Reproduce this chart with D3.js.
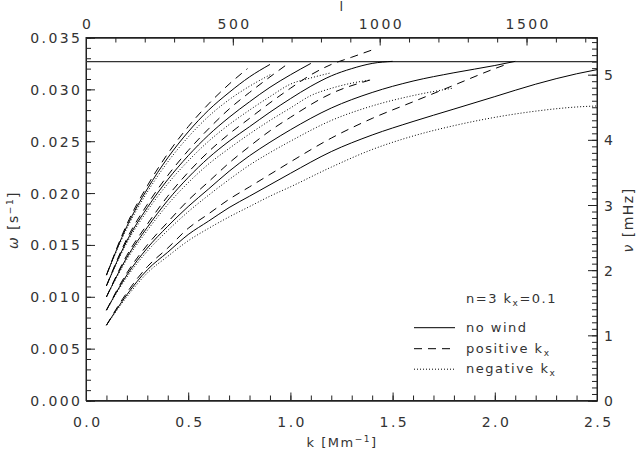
<!DOCTYPE html>
<html>
<head>
<meta charset="utf-8">
<script src="https://cdn.jsdelivr.net/npm/d3@7/dist/d3.min.js"></script>
<style>
  html, body { margin: 0; padding: 0; background: #fff; }
  svg { display: block; }
  text { font-family: "DejaVu Sans", sans-serif; fill: #333; }
</style>
</head>
<body>
<svg id="chart" width="638" height="453"></svg>
<script>
// ---------- data ----------
const cutoffOmega = 0.03267;          // acoustic cut-off line
const lPerK = 696;                    // top axis: l = k * R_sun
// mode 1 (highest)
const kS1 = [0.1,0.2,0.3,0.4,0.5,0.6,0.7,0.8,0.9];
const wS1 = [0.01209,0.0168,0.0204,0.0234,0.0259,0.0280,0.0297,0.0312,0.0324];
const kD1 = [0.1,0.2,0.3,0.4,0.5,0.6,0.7,0.79];
const wD1 = [0.01209,0.0170,0.0207,0.0238,0.0264,0.0286,0.0305,0.0320];
const kN1 = [0.1,0.2,0.3,0.4,0.5,0.6,0.7,0.8,0.91];
const wN1 = [0.01209,0.0166,0.0201,0.0230,0.0254,0.0274,0.0290,0.0303,0.0315];
// mode 2
const kS2 = [0.1,0.2,0.3,0.4,0.5,0.6,0.7,0.8,0.9,1.0,1.1];
const wS2 = [0.01106,0.0154,0.0186,0.0213,0.0236,0.0256,0.0273,0.0288,0.0302,0.0314,0.0325];
const kD2 = [0.1,0.2,0.3,0.4,0.5,0.6,0.7,0.8,0.9,0.99];
const wD2 = [0.01106,0.0156,0.0189,0.0217,0.0241,0.0262,0.0281,0.0297,0.0312,0.0325];
const kN2 = [0.1,0.2,0.3,0.4,0.5,0.6,0.7,0.8,0.9,1.0,1.1,1.2];
const wN2 = [0.01106,0.0152,0.0183,0.0209,0.0231,0.0250,0.0266,0.0280,0.0293,0.0305,0.0311,0.0316];
// mode 3
const kS3 = [0.1,0.2,0.3,0.4,0.5,0.6,0.7,0.8,0.9,1.0,1.1,1.2,1.3,1.4,1.5];
const wS3 = [0.00999,0.0138,0.0167,0.0193,0.0215,0.0234,0.0250,0.0264,0.0278,0.0291,0.0303,0.0313,0.0320,0.0325,0.0327];
const kD3 = [0.1,0.2,0.3,0.4,0.5,0.6,0.7,0.8,0.9,1.0,1.1,1.2,1.3,1.4];
const wD3 = [0.00999,0.0140,0.0170,0.0197,0.0220,0.0240,0.0257,0.0272,0.0287,0.0301,0.0314,0.0324,0.0331,0.0338];
const kN3 = [0.1,0.2,0.3,0.4,0.5,0.6,0.7,0.8,0.9,1.0,1.1,1.2,1.3,1.39];
const wN3 = [0.00999,0.0136,0.0164,0.0189,0.0210,0.0228,0.0243,0.0257,0.0270,0.0282,0.0294,0.0301,0.0306,0.0309];
// mode 4
const kS4 = [0.1,0.2,0.3,0.4,0.5,0.6,0.7,0.8,0.9,1.0,1.2,1.4,1.6,1.8,2.0,2.1];
const wS4 = [0.00871,0.0121,0.0147,0.0168,0.0187,0.0204,0.0221,0.0236,0.0249,0.0261,0.0282,0.0297,0.0308,0.0316,0.0323,0.0327];
const kD4 = [0.1,0.2,0.3,0.4,0.5,0.6,0.7,0.8,0.9,1.0,1.2,1.39];
const wD4 = [0.00871,0.0123,0.0150,0.0172,0.0193,0.0211,0.0229,0.0245,0.0260,0.0273,0.0296,0.0309];
const kN4 = [0.1,0.2,0.3,0.4,0.5,0.6,0.7,0.8,0.9,1.0,1.2,1.4,1.6,1.79];
const wN4 = [0.00871,0.0119,0.0144,0.0164,0.0182,0.0198,0.0213,0.0227,0.0239,0.0250,0.0270,0.0284,0.0294,0.0301];
// mode 5 (lowest)
const kS5 = [0.1,0.2,0.3,0.4,0.5,0.6,0.7,0.8,0.9,1.0,1.2,1.4,1.6,1.8,2.0,2.2,2.4,2.5];
const wS5 = [0.00726,0.0102,0.0126,0.0143,0.0160,0.0173,0.0186,0.0197,0.0208,0.0219,0.0240,0.0256,0.0269,0.0281,0.0293,0.0305,0.0315,0.0319];
const kD5 = [0.1,0.2,0.3,0.4,0.5,0.6,0.7,0.8,0.9,1.0,1.2,1.4,1.6,1.8,2.0,2.07];
const wD5 = [0.00726,0.0104,0.0129,0.0147,0.0166,0.0180,0.0194,0.0206,0.0218,0.0230,0.0253,0.0272,0.0288,0.0304,0.0320,0.0325];
const kN5 = [0.1,0.2,0.3,0.4,0.5,0.6,0.7,0.8,0.9,1.0,1.2,1.4,1.6,1.8,2.0,2.2,2.4,2.5];
const wN5 = [0.00726,0.0100,0.0123,0.0139,0.0154,0.0166,0.0177,0.0187,0.0197,0.0206,0.0225,0.0242,0.0255,0.0265,0.0273,0.0279,0.0283,0.0284];

// ticks
const kTicks = [0, 0.5, 1.0, 1.5, 2.0, 2.5];
const wTicks = [0, 0.005, 0.010, 0.015, 0.020, 0.025, 0.030, 0.035];
const lTicks = [0, 500, 1000, 1500];
const nuTicks = [0, 1, 2, 3, 4, 5];
const legendLabels = ["no wind", "positive k", "negative k"];
const legendTitle = "n=3 k";

// ---------- drawing ----------
const svg = d3.select("#chart");
const L = 86, R = 597, T = 37.5, B = 400.5;
const x = d3.scaleLinear().domain([0, 2.5]).range([L, R]);
const y = d3.scaleLinear().domain([0, 0.035]).range([B, T]);
const xl = d3.scaleLinear().domain([0, 2.5 * lPerK]).range([L, R]);
const ynu = d3.scaleLinear().domain([0, 0.035 / (2 * Math.PI) * 1000]).range([B, T]);

const axisColor = "#222";
const LS = 2.4; // letter-spacing of tick labels
const FS = 14;  // tick label font size

function styleAxis(g) {
  g.selectAll("path.domain").attr("stroke", axisColor).attr("stroke-width", 1);
  g.selectAll(".tick line").attr("stroke", axisColor).attr("stroke-width", 1);
  g.selectAll(".tick text")
    .attr("font-family", "DejaVu Sans, sans-serif")
    .attr("font-size", FS)
    .attr("letter-spacing", LS)
    .attr("fill", "#3a3a3a");
}
function rangeStep(a, b, s) { return d3.range(Math.round((b - a) / s) + 1).map(i => +(a + i * s).toFixed(6)); }

// minor ticks
svg.append("g").attr("transform", `translate(0,${B})`)
  .call(d3.axisBottom(x).tickValues(rangeStep(0, 2.5, 0.1)).tickSize(-5).tickFormat(""))
  .call(styleAxis);
svg.append("g").attr("transform", `translate(0,${T})`)
  .call(d3.axisTop(xl).tickValues(rangeStep(0, 1700, 100)).tickSize(-5).tickFormat(""))
  .call(styleAxis);
svg.append("g").attr("transform", `translate(${L},0)`)
  .call(d3.axisLeft(y).tickValues(rangeStep(0, 0.035, 0.001)).tickSize(-5).tickFormat(""))
  .call(styleAxis);
svg.append("g").attr("transform", `translate(${R},0)`)
  .call(d3.axisRight(ynu).tickValues(rangeStep(0, 5.5, 0.1)).tickSize(-5).tickFormat(""))
  .call(styleAxis);

// major ticks + labels
const gB = svg.append("g").attr("transform", `translate(0,${B})`)
  .call(d3.axisBottom(x).tickValues(kTicks).tickSize(-8).tickFormat(d3.format(".1f")))
  .call(styleAxis);
gB.selectAll(".tick text").attr("y", 26).attr("dy", 0).attr("dx", LS / 2);

const gT = svg.append("g").attr("transform", `translate(0,${T})`)
  .call(d3.axisTop(xl).tickValues(lTicks).tickSize(-8).tickFormat(d3.format("d")))
  .call(styleAxis);
gT.selectAll(".tick text").attr("y", -8.3).attr("dy", 0).attr("dx", LS / 2);

const gL = svg.append("g").attr("transform", `translate(${L},0)`)
  .call(d3.axisLeft(y).tickValues(wTicks).tickSize(-9).tickFormat(d3.format(".3f")))
  .call(styleAxis);
gL.selectAll(".tick text").attr("x", -6 + LS).attr("dy", "0.36em");

const gR = svg.append("g").attr("transform", `translate(${R},0)`)
  .call(d3.axisRight(ynu).tickValues(nuTicks).tickSize(-9).tickFormat(d3.format("d")))
  .call(styleAxis);
gR.selectAll(".tick text").attr("x", 7).attr("dy", "0.36em");

// frame
svg.append("rect").attr("x", L).attr("y", T).attr("width", R - L).attr("height", B - T)
  .attr("fill", "none").attr("stroke", axisColor).attr("stroke-width", 1);

// cut-off line
svg.append("line")
  .attr("x1", x(0)).attr("x2", x(2.5))
  .attr("y1", y(cutoffOmega)).attr("y2", y(cutoffOmega))
  .attr("stroke", "#333").attr("stroke-width", 1.2);

// curves
const line = d3.line().x(d => x(d[0])).y(d => y(d[1])).curve(d3.curveMonotoneX);
const styles = {
  solid: null,
  dashed: "8,6",
  dotted: "1,2"
};
const curves = [
  [kS1, wS1, "solid"], [kD1, wD1, "dashed"], [kN1, wN1, "dotted"],
  [kS2, wS2, "solid"], [kD2, wD2, "dashed"], [kN2, wN2, "dotted"],
  [kS3, wS3, "solid"], [kD3, wD3, "dashed"], [kN3, wN3, "dotted"],
  [kS4, wS4, "solid"], [kD4, wD4, "dashed"], [kN4, wN4, "dotted"],
  [kS5, wS5, "solid"], [kD5, wD5, "dashed"], [kN5, wN5, "dotted"]
];
const gC = svg.append("g");
curves.forEach(([ks, ws, st]) => {
  gC.append("path")
    .datum(ks.map((k, i) => [k, ws[i]]))
    .attr("d", line)
    .attr("fill", "none")
    .attr("stroke", "#000")
    .attr("stroke-width", 1)
    .attr("stroke-dasharray", styles[st]);
});

// axis titles
const tf = { "font-size": 13, "letter-spacing": 1.5, "fill": "#3a3a3a" };
function applyT(sel) { Object.entries(tf).forEach(([k, v]) => sel.attr(k, v)); return sel; }

const tB = applyT(svg.append("text")).attr("x", 342).attr("y", 447).attr("text-anchor", "middle");
tB.append("tspan").text("k [Mm");
tB.append("tspan").attr("font-size", 9).attr("dy", -5).text("−1");
tB.append("tspan").attr("dy", 5).text("]");

applyT(svg.append("text")).attr("x", 342).attr("y", 11).attr("text-anchor", "middle")
  .text("l");

const tL = applyT(svg.append("text")).attr("text-anchor", "middle")
  .attr("font-size", 14)
  .attr("transform", "translate(18,220) rotate(-90)");
tL.append("tspan").attr("font-style", "italic").text("ω");
tL.append("tspan").text(" [s");
tL.append("tspan").attr("font-size", 9).attr("dy", -5).text("−1");
tL.append("tspan").attr("dy", 5).text("]");

const tR = applyT(svg.append("text")).attr("text-anchor", "middle")
  .attr("font-size", 14)
  .attr("transform", "translate(633,220) rotate(-90)");
tR.append("tspan").attr("font-style", "italic").text("ν");
tR.append("tspan").text(" [mHz]");

// legend
const lg = svg.append("g");
const tt = applyT(lg.append("text")).attr("x", 466).attr("y", 303);
tt.append("tspan").text(legendTitle);
tt.append("tspan").attr("font-size", 9).attr("dy", 3).text("x");
tt.append("tspan").attr("dy", -3).text("=0.1");

const legendStyles = ["solid", "dashed", "dotted"];
const legendY = [327.7, 348.7, 369.2];
legendLabels.forEach((lab, i) => {
  lg.append("line").attr("x1", 414).attr("x2", 455)
    .attr("y1", legendY[i]).attr("y2", legendY[i])
    .attr("stroke", "#000").attr("stroke-width", 1)
    .attr("stroke-dasharray", styles[legendStyles[i]]);
  const t = applyT(lg.append("text")).attr("x", 466).attr("y", legendY[i] + 4.2);
  t.append("tspan").text(lab);
  if (i > 0) t.append("tspan").attr("font-size", 9).attr("dy", 3).text("x");
});
</script>
</body>
</html>
